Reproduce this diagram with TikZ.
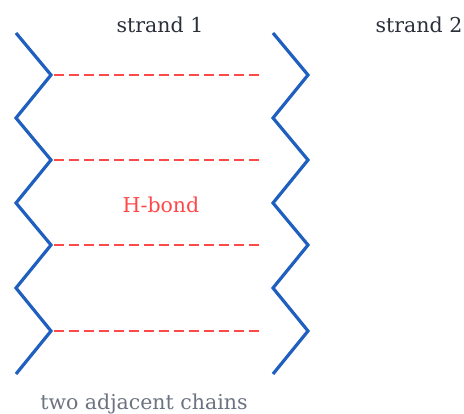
\documentclass[tikz,border=0pt]{standalone}
\usepackage{fontspec}
\setmainfont{DejaVu Serif}
\usetikzlibrary{calc}
\definecolor{chainblue}{HTML}{1F5FBF}
\definecolor{bondred}{HTML}{FF4848}
\definecolor{labeldark}{HTML}{2A2F3A}
\definecolor{notegray}{HTML}{6B7280}
\begin{document}
\begin{tikzpicture}[x=1pt,y=-1pt,
  chain/.style={draw=chainblue,line width=3.2pt,line join=miter},
  hbond/.style={draw=bondred,line width=2pt,dash pattern=on 9.5pt off 5.5pt},
  title/.style={font=\fontsize{20.5}{24}\selectfont,text=labeldark,anchor=base,inner sep=0pt},
  note/.style={font=\fontsize{20.5}{24}\selectfont,anchor=base,inner sep=0pt}]
\useasboundingbox (0,0) rectangle (464,414);
% zigzag vertices of both strands
\foreach \i/\yy in {0/33,1/75,2/118,3/160,4/203,5/245,6/288,7/331,8/374}{
  \ifodd\i
    \coordinate (L\i) at (51,\yy);
    \coordinate (R\i) at (308,\yy);
  \else
    \coordinate (L\i) at (16,\yy);
    \coordinate (R\i) at (273,\yy);
  \fi
}
\draw[chain] (L0) -- (L1) -- (L2) -- (L3) -- (L4) -- (L5) -- (L6) -- (L7) -- (L8);
\draw[chain] (R0) -- (R1) -- (R2) -- (R3) -- (R4) -- (R5) -- (R6) -- (R7) -- (R8);
% hydrogen bonds between the strands
\foreach \i in {1,3,5,7}{
  \coordinate (B\i) at ($(L\i)+(3,0)$);
  \coordinate (E\i) at ($(R\i)+(-45,0)$);
  \draw[hbond] (B\i) -- (E\i);
}
\node[title] (s1) at (160,33) {strand 1};
\node[title] (s2) at (419,33) {strand 2};
\node[note,text=bondred] (hb) at (161,213) {H-bond};
\node[note,text=notegray] (cap) at (144,410) {two adjacent chains};
\end{tikzpicture}
\end{document}
